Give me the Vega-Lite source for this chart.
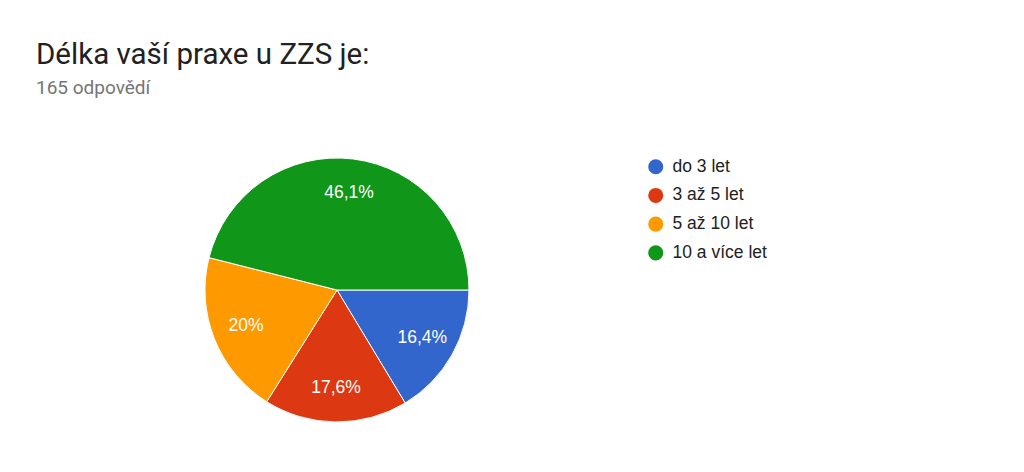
{
  "$schema": "https://vega.github.io/schema/vega-lite/v6.json",
  "autosize": {"type": "none"},
  "padding": {"left": 205, "top": 158, "right": 555, "bottom": 50},
  "width": 264,
  "height": 264,
  "background": "white",
  "title": {
    "text": "Délka vaší praxe u ZZS je:",
    "subtitle": "165 odpovědí",
    "anchor": "start",
    "frame": "group",
    "dx": -169,
    "offset": 57,
    "font": "Roboto",
    "fontSize": 29.5,
    "fontWeight": "normal",
    "color": "#212121",
    "subtitleFont": "Roboto",
    "subtitleFontSize": 19,
    "subtitleColor": "#757575",
    "subtitlePadding": 9
  },
  "data": {
    "values": [
      {"kategorie": "do 3 let", "pocet": 27, "poradi": 1, "podil": "16,4%"},
      {"kategorie": "3 až 5 let", "pocet": 29, "poradi": 2, "podil": "17,6%"},
      {"kategorie": "5 až 10 let", "pocet": 33, "poradi": 3, "podil": "20%"},
      {"kategorie": "10 a více let", "pocet": 76, "poradi": 4, "podil": "46,1%"}
    ]
  },
  "encoding": {
    "theta": {"field": "pocet", "type": "quantitative", "stack": true, "scale": {"range": [1.5707963, 7.8539816]}},
    "order": {"field": "poradi", "type": "quantitative"}
  },
  "layer": [
    {
      "mark": {"type": "arc", "stroke": "white", "strokeWidth": 1},
      "encoding": {
        "color": {
          "field": "kategorie",
          "type": "nominal",
          "scale": {
            "domain": ["do 3 let", "3 až 5 let", "5 až 10 let", "10 a více let"],
            "range": ["#3366cc", "#dc3912", "#ff9900", "#109618"]
          },
          "legend": {
            "title": null,
            "orient": "none",
            "legendX": 442,
            "legendY": 0,
            "symbolType": "circle",
            "symbolSize": 227,
            "symbolStrokeWidth": 0,
            "labelFont": "Liberation Sans",
            "labelFontSize": 17.5,
            "labelColor": "#222222",
            "labelOffset": 8,
            "rowPadding": 9.7,
            "labelLimit": 300
          }
        }
      }
    },
    {
      "mark": {"type": "text", "radius": 98, "font": "Liberation Sans", "fontSize": 17.5, "fill": "white", "align": "center", "baseline": "middle"},
      "encoding": {
        "text": {"field": "podil", "type": "nominal"}
      }
    }
  ]
}
